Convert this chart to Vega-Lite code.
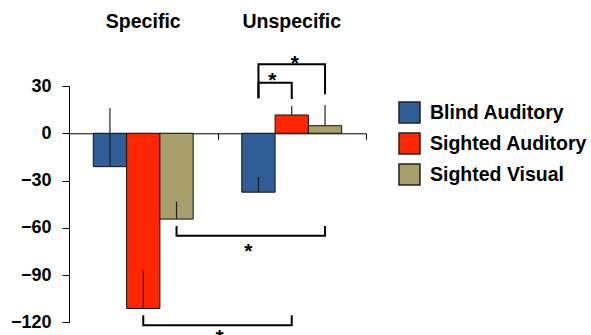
{
  "$schema": "https://vega.github.io/schema/vega-lite/v6.json",
  "autosize": "none",
  "width": 297,
  "height": 236.3,
  "padding": {"left": 69, "top": 86, "right": 225, "bottom": 12.7},
  "config": {
    "view": {"stroke": null},
    "font": "Liberation Sans"
  },
  "datasets": {
    "bars": [
      {"condition": "Specific", "group": "Blind Auditory", "value": -21.2, "err_end": 16},
      {"condition": "Specific", "group": "Sighted Auditory", "value": -111.2, "err_end": -87},
      {"condition": "Specific", "group": "Sighted Visual", "value": -54.5, "err_end": -43.4},
      {"condition": "Unspecific", "group": "Blind Auditory", "value": -37.4, "err_end": -27.9},
      {"condition": "Unspecific", "group": "Sighted Auditory", "value": 11.6, "err_end": 17.3},
      {"condition": "Unspecific", "group": "Sighted Visual", "value": 4.8, "err_end": 18}
    ],
    "brackets": [
      {"id": "B1", "condition": "Specific", "group": "Sighted Auditory", "k": 0, "y": -115.5},
      {"id": "B1", "condition": "Specific", "group": "Sighted Auditory", "k": 1, "y": -121.8},
      {"id": "B1", "condition": "Unspecific", "group": "Sighted Auditory", "k": 2, "y": -121.8},
      {"id": "B1", "condition": "Unspecific", "group": "Sighted Auditory", "k": 3, "y": -115.5},
      {"id": "B2", "condition": "Specific", "group": "Sighted Visual", "k": 0, "y": -58.8},
      {"id": "B2", "condition": "Specific", "group": "Sighted Visual", "k": 1, "y": -65.1},
      {"id": "B2", "condition": "Unspecific", "group": "Sighted Visual", "k": 2, "y": -65.1},
      {"id": "B2", "condition": "Unspecific", "group": "Sighted Visual", "k": 3, "y": -58.8},
      {"id": "B3", "condition": "Unspecific", "group": "Blind Auditory", "k": 0, "y": 22.2},
      {"id": "B3", "condition": "Unspecific", "group": "Blind Auditory", "k": 1, "y": 32.1},
      {"id": "B3", "condition": "Unspecific", "group": "Sighted Auditory", "k": 2, "y": 32.1},
      {"id": "B3", "condition": "Unspecific", "group": "Sighted Auditory", "k": 3, "y": 21.8},
      {"id": "B4", "condition": "Unspecific", "group": "Blind Auditory", "k": 0, "y": 22.2},
      {"id": "B4", "condition": "Unspecific", "group": "Blind Auditory", "k": 1, "y": 43.8},
      {"id": "B4", "condition": "Unspecific", "group": "Sighted Visual", "k": 2, "y": 43.8},
      {"id": "B4", "condition": "Unspecific", "group": "Sighted Visual", "k": 3, "y": 24.7}
    ]
  },
  "layer": [
    {
      "data": {"name": "bars"},
      "mark": {"type": "bar", "stroke": "#111111", "strokeWidth": 1},
      "encoding": {
        "x": {
          "field": "condition", "type": "nominal",
          "scale": {"domain": ["Specific", "Unspecific"], "paddingInner": 0, "paddingOuter": 0},
          "axis": {
            "orient": "bottom", "offset": -189, "labels": false, "title": null,
            "domain": true, "domainColor": "#000000", "domainWidth": 1,
            "ticks": true, "tickBand": "extent", "tickSize": 6, "tickColor": "#000000", "tickWidth": 1,
            "grid": false
          }
        },
        "xOffset": {
          "field": "group", "type": "nominal",
          "scale": {"domain": ["Blind Auditory", "Sighted Auditory", "Sighted Visual"], "paddingInner": 0, "paddingOuter": 0.73}
        },
        "y": {
          "field": "value", "type": "quantitative",
          "scale": {"domain": [-120, 30], "nice": false, "zero": false},
          "axis": {
            "values": [-120, -90, -60, -30, 0, 30], "title": null, "grid": false,
            "labelFont": "Liberation Sans", "labelFontWeight": "bold", "labelFontSize": 18, "labelColor": "#000000",
            "labelPadding": 11, "tickSize": 7, "tickColor": "#000000", "tickWidth": 1,
            "domainColor": "#000000", "domainWidth": 1
          }
        },
        "color": {
          "field": "group", "type": "nominal",
          "scale": {"domain": ["Blind Auditory", "Sighted Auditory", "Sighted Visual"], "range": ["#2E5E95", "#FF2600", "#A99F6C"]},
          "legend": {
            "title": null, "orient": "none", "legendX": 329, "legendY": 15, "padding": 0,
            "symbolType": "square", "symbolSize": 441, "symbolStrokeColor": "#222222", "symbolStrokeWidth": 1.5,
            "symbolOpacity": 1,
            "labelFont": "Liberation Sans", "labelFontWeight": "bold", "labelFontSize": 19.5, "labelColor": "#000000",
            "labelOffset": 9, "rowPadding": 4
          }
        }
      }
    },
    {
      "data": {"name": "bars"},
      "mark": {"type": "rule", "color": "#222222", "strokeWidth": 1.2},
      "encoding": {
        "x": {"field": "condition", "type": "nominal"},
        "xOffset": {"field": "group", "type": "nominal"},
        "y": {"field": "value", "type": "quantitative"},
        "y2": {"field": "err_end"}
      }
    },
    {
      "data": {"name": "brackets"},
      "mark": {"type": "line", "color": "#000000", "strokeWidth": 2},
      "encoding": {
        "x": {"field": "condition", "type": "nominal"},
        "xOffset": {"field": "group", "type": "nominal"},
        "y": {"field": "y", "type": "quantitative"},
        "detail": {"field": "id", "type": "nominal"},
        "order": {"field": "k", "type": "quantitative"}
      }
    },
    {
      "data": {"values": [{"condition": "Unspecific", "y": -133.8}]},
      "mark": {"type": "text", "text": "*", "fontSize": 21, "fontWeight": "bold", "baseline": "alphabetic", "dx": 2, "color": "#000000"},
      "encoding": {
        "x": {"field": "condition", "type": "nominal", "bandPosition": 0},
        "y": {"field": "y", "type": "quantitative"}
      }
    },
    {
      "data": {"values": [{"condition": "Unspecific", "group": "Blind Auditory", "y": -78.9}]},
      "mark": {"type": "text", "text": "*", "fontSize": 21, "fontWeight": "bold", "baseline": "alphabetic", "dx": -10, "color": "#000000"},
      "encoding": {
        "x": {"field": "condition", "type": "nominal"},
        "xOffset": {"field": "group", "type": "nominal"},
        "y": {"field": "y", "type": "quantitative"}
      }
    },
    {
      "data": {"values": [{"condition": "Unspecific", "group": "Blind Auditory", "y": 29.6}]},
      "mark": {"type": "text", "text": "*", "fontSize": 21, "fontWeight": "bold", "baseline": "alphabetic", "dx": 14, "color": "#000000"},
      "encoding": {
        "x": {"field": "condition", "type": "nominal"},
        "xOffset": {"field": "group", "type": "nominal"},
        "y": {"field": "y", "type": "quantitative"}
      }
    },
    {
      "data": {"values": [{"condition": "Unspecific", "group": "Sighted Auditory", "y": 40.2}]},
      "mark": {"type": "text", "text": "*", "fontSize": 21, "fontWeight": "bold", "baseline": "alphabetic", "dx": 3, "color": "#000000"},
      "encoding": {
        "x": {"field": "condition", "type": "nominal"},
        "xOffset": {"field": "group", "type": "nominal"},
        "y": {"field": "y", "type": "quantitative"}
      }
    },
    {
      "data": {"values": [{"condition": "Specific"}, {"condition": "Unspecific"}]},
      "mark": {"type": "text", "fontSize": 19.5, "fontWeight": "bold", "baseline": "alphabetic", "color": "#000000", "font": "Liberation Sans"},
      "encoding": {
        "x": {"field": "condition", "type": "nominal"},
        "y": {"datum": 66.7},
        "text": {"field": "condition"}
      }
    }
  ]
}
